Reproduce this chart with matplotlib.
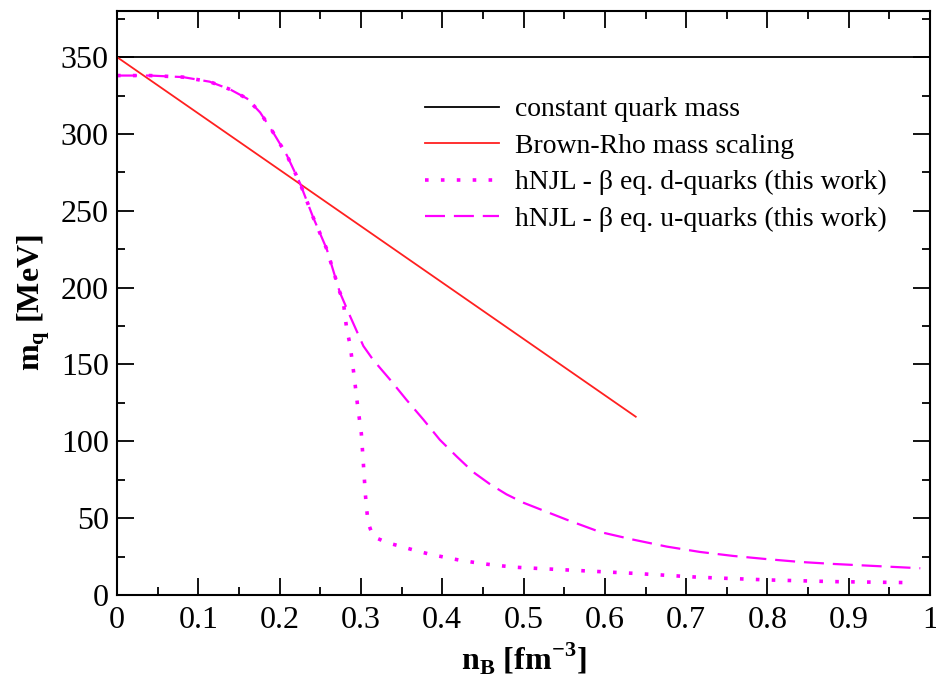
import numpy as np
import matplotlib.pyplot as plt
from matplotlib.ticker import MultipleLocator

plt.rcParams['font.family'] = 'Liberation Serif'
plt.rcParams['mathtext.fontset'] = 'custom'
plt.rcParams['mathtext.rm'] = 'Liberation Serif'
plt.rcParams['mathtext.bf'] = 'Liberation Serif:bold'

# constant quark mass
const_x = [0.0, 1.0]
const_m = [350, 350]

# Brown-Rho scaling
br_x = [0.0, 0.638]
br_m = [350, 116]

# common part of the hNJL curves (both quarks) below n_B ~ 0.274
low_x = [0.0, 0.0406, 0.081, 0.114, 0.139, 0.16, 0.176, 0.192, 0.209,
         0.225, 0.241, 0.258, 0.274]
low_m = [338, 338, 337, 334, 329, 323, 314, 301, 286,
         268, 246, 225, 197]

# hNJL beta eq. u-quarks (rest)
u_x = low_x + [0.287, 0.303, 0.315, 0.336, 0.356, 0.377, 0.397, 0.418, 0.438,
               0.459, 0.479, 0.50, 0.553, 0.594, 0.635, 0.676, 0.717, 0.758,
               0.80, 0.84, 0.881, 0.988]
u_m = low_m + [181, 162, 153, 140, 127, 114, 101, 90, 80,
               72, 65.5, 60, 49, 41, 36, 31.5, 28, 25.4,
               23.3, 21.5, 20.2, 17.4]

# hNJL beta eq. d-quarks (rest)
d_x = low_x + [0.278, 0.2825, 0.2866, 0.2915, 0.2956, 0.3005, 0.303, 0.3054,
               0.307, 0.309, 0.315, 0.3325, 0.350, 0.367, 0.385, 0.4026, 0.420,
               0.438, 0.4555, 0.474, 0.4916, 0.553, 0.635, 0.717, 0.80, 0.881,
               0.98]
d_m = low_m + [192, 173, 163, 143, 124.5, 105, 85.4, 65.8,
               55.9, 46.7, 38, 34, 31.5, 28.9, 26.5, 24.6, 22.8,
               21.3, 20, 18.9, 18, 16.3, 14.1, 11.5, 9.8, 8.7,
               8.0]

fig = plt.figure(figsize=(9.37, 6.88), dpi=100)
ax = fig.add_axes([0.1249, 0.1352, 0.8677, 0.8488])

ax.plot(const_x, const_m, color='black', lw=1.3, label='constant quark mass')
ax.plot(br_x, br_m, color='#ff2020', lw=1.3, label='Brown-Rho mass scaling')
ax.plot(d_x, d_m, color='magenta', lw=2.6, linestyle=(0, (1, 3.4)),
        label='hNJL - β eq. d-quarks (this work)')
ax.plot(u_x, u_m, color='magenta', lw=1.6, linestyle=(0, (9, 4)),
        label='hNJL - β eq. u-quarks (this work)')

ax.set_xlim(0, 1)
ax.set_ylim(0, 380)
ax.xaxis.set_minor_locator(MultipleLocator(0.05))
ax.yaxis.set_minor_locator(MultipleLocator(25))
ax.set_xticks(np.arange(0, 1.01, 0.1))
ax.set_xticklabels(['0', '0.1', '0.2', '0.3', '0.4', '0.5', '0.6', '0.7', '0.8', '0.9', '1'])
ax.set_yticks(np.arange(0, 351, 50))

ax.tick_params(which='both', direction='in', top=True, right=True, width=1.3)
ax.tick_params(which='major', length=12, labelsize=23, pad=6)
ax.tick_params(which='minor', length=6)
ax.tick_params(axis='x', pad=8)
for s in ax.spines.values():
    s.set_linewidth(1.5)

ax.set_xlabel(r'n$_\mathbf{B}$ [fm$^\mathbf{-3}$]', fontsize=23, fontweight='bold', labelpad=4)
ax.set_ylabel(r'm$_\mathbf{q}$ [MeV]', fontsize=23, fontweight='bold', labelpad=6)

ax.legend(loc='upper left', bbox_to_anchor=(0.379, 0.853), frameon=False,
          borderpad=0, borderaxespad=0,
          fontsize=20, handlelength=2.66, handletextpad=0.58, labelspacing=0.4)

fig.savefig('out.png', dpi=100)
